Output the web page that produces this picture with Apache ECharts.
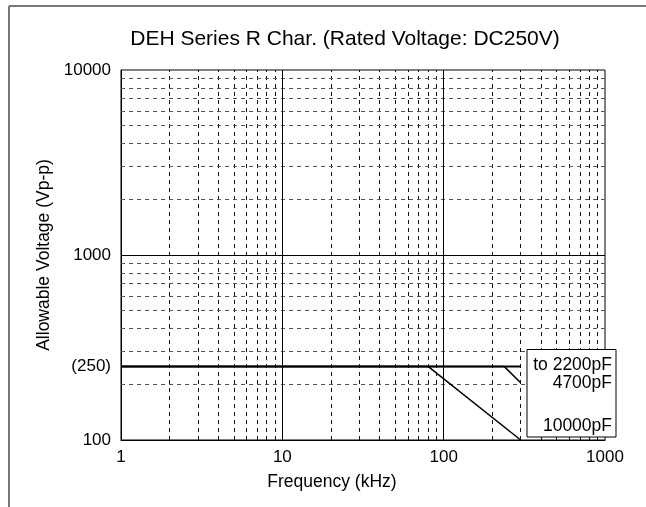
<!DOCTYPE html>
<html>
<head>
<meta charset="utf-8">
<script src="https://cdn.jsdelivr.net/npm/echarts@6/dist/echarts.min.js"></script>
<style>
  html, body { margin: 0; padding: 0; background: #fff; }
  #chart { width: 646px; height: 507px; }
</style>
</head>
<body>
<div id="chart"></div>
<script>
// axis values
const freqRange = [1, 1000];
const voltRange = [100, 10000];
const voltLabels = [100, 250, 1000, 10000];

// grid lines
const majorFreq = [10, 100];
const minorFreq = [2, 3, 4, 5, 6, 7, 8, 9, 20, 30, 40, 50, 60, 70, 80, 90, 200, 300, 400, 500, 600, 700, 800, 900];
const majorVolt = [1000];
const minorVolt = [200, 300, 400, 500, 600, 700, 800, 900, 2000, 3000, 4000, 5000, 6000, 7000, 8000, 9000];

// curves [kHz, Vp-p]
const line2200 = [[1, 250], [300, 250]];
const line4700 = [[1, 250], [237, 250], [300, 204]];
const line10000 = [[1, 250], [80, 250], [300, 100]];

const legendNames = ['to 2200pF', '4700pF', '10000pF'];

const font = "'Liberation Sans', Arial, sans-serif";
const chart = echarts.init(document.getElementById('chart'));

function gridLines(vals, key, style) {
  return vals.map(v => ({ [key]: v, lineStyle: style }));
}

const dashV = { color: '#111', width: 1, type: [4, 4] };
const dashH = { color: '#555', width: 1, type: [4, 4] };
const solid = { color: '#000', width: 1, type: 'solid' };

const legendText = (i, y) => ({
  type: 'text', x: 612, y: y, z: 101,
  style: { text: legendNames[i], font: '17.5px ' + font, fill: '#000', align: 'right', verticalAlign: 'middle' }
});

const option = {
  animation: false,
  title: {
    text: 'DEH Series R Char. (Rated Voltage: DC250V)',
    left: 340,
    top: 24,
    textAlign: 'center',
    textStyle: { fontFamily: font, fontSize: 21, fontWeight: 'normal', color: '#000' }
  },
  grid: {
    left: 121, right: 41, top: 70, bottom: 67,
    show: true, borderColor: '#000', borderWidth: 1, backgroundColor: '#fff'
  },
  xAxis: {
    type: 'log',
    logBase: 10,
    min: freqRange[0],
    max: freqRange[1],
    name: 'Frequency (kHz)',
    nameLocation: 'middle',
    nameGap: 33,
    nameTextStyle: { fontFamily: font, fontSize: 17.5, color: '#000', padding: [0, 62, 0, 0] },
    axisLine: { lineStyle: { color: '#000', width: 1 } },
    axisTick: { show: false },
    splitLine: { show: false },
    axisLabel: { fontFamily: font, fontSize: 17, color: '#000', margin: 9, formatter: v => String(v) }
  },
  yAxis: {
    type: 'log',
    logBase: 10,
    min: voltRange[0],
    max: voltRange[1],
    name: 'Allowable Voltage (Vp-p)',
    nameLocation: 'middle',
    nameGap: 56,
    nameTextStyle: { fontFamily: font, fontSize: 17.5, color: '#000' },
    axisLine: { lineStyle: { color: '#000', width: 1 } },
    axisTick: { show: false },
    splitLine: { show: false },
    axisLabel: {
      fontFamily: font, fontSize: 17, color: '#000', margin: 10,
      customValues: voltLabels,
      formatter: v => (v === 250 ? '(250)' : String(v))
    }
  },
  series: [
    {
      type: 'line',
      data: [],
      silent: true,
      markLine: {
        silent: true,
        symbol: 'none',
        label: { show: false },
        data: [].concat(
          gridLines(minorFreq, 'xAxis', dashV),
          gridLines(minorVolt, 'yAxis', dashH),
          gridLines(majorFreq, 'xAxis', solid),
          gridLines(majorVolt, 'yAxis', solid)
        )
      }
    },
    { name: legendNames[0], type: 'line', data: line2200, symbol: 'none', lineStyle: { color: '#000', width: 2 }, z: 5 },
    { name: legendNames[1], type: 'line', data: line4700, symbol: 'none', lineStyle: { color: '#000', width: 1.5 }, z: 5 },
    { name: legendNames[2], type: 'line', data: line10000, symbol: 'none', lineStyle: { color: '#000', width: 1.5 }, z: 5 }
  ],
  graphic: [
    { type: 'line', shape: { x1: 9, y1: 6, x2: 646, y2: 6 }, style: { stroke: '#777', lineWidth: 2 } },
    { type: 'line', shape: { x1: 9, y1: 6, x2: 9, y2: 507 }, style: { stroke: '#777', lineWidth: 2 } },
    { type: 'rect', z: 100, shape: { x: 527, y: 349.5, width: 89, height: 87.5 }, style: { fill: '#fff', stroke: '#000', lineWidth: 1 } },
    legendText(0, 365),
    legendText(1, 383),
    legendText(2, 426)
  ]
};

chart.setOption(option);
</script>
</body>
</html>
